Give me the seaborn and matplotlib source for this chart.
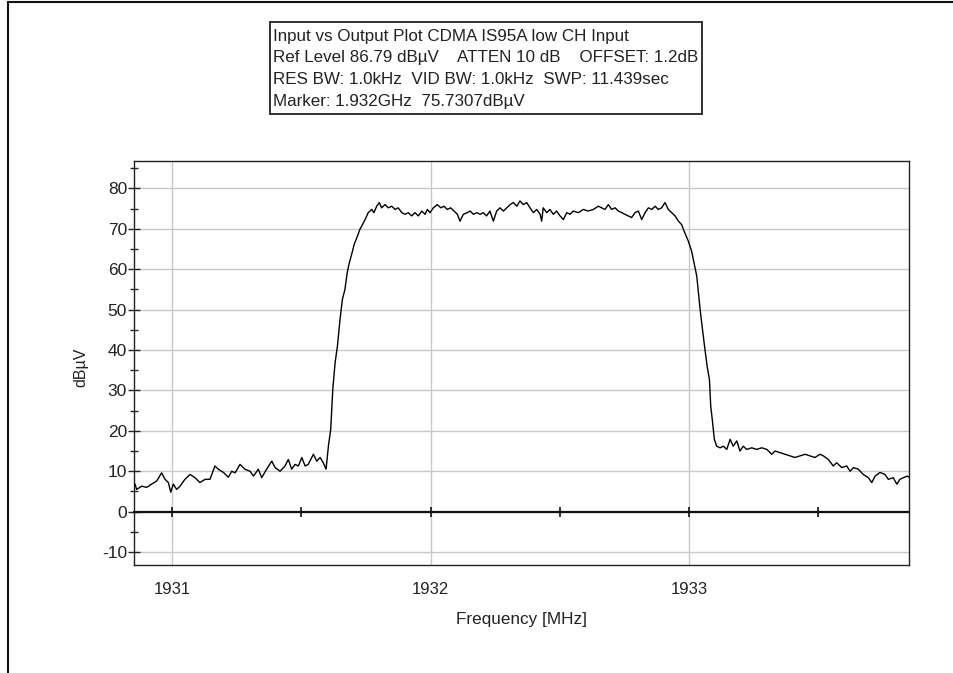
import numpy as np
import pandas as pd
import matplotlib
matplotlib.use("Agg")
import matplotlib.pyplot as plt
from matplotlib.lines import Line2D
from matplotlib.patches import Rectangle
import seaborn as sns

# ---------------- data ----------------
freq_mhz = [
    1930.857, 1930.863, 1930.883, 1930.902, 1930.921, 1930.941, 1930.960, 1930.973,
    1930.986, 1930.995, 1931.005, 1931.018, 1931.031, 1931.050, 1931.070, 1931.089,
    1931.108, 1931.128, 1931.147, 1931.166, 1931.179, 1931.199, 1931.218, 1931.231,
    1931.244, 1931.263, 1931.282, 1931.302, 1931.315, 1931.334, 1931.347, 1931.366,
    1931.386, 1931.399, 1931.418, 1931.437, 1931.450, 1931.463, 1931.476, 1931.489,
    1931.502, 1931.515, 1931.527, 1931.547, 1931.560, 1931.573, 1931.585, 1931.596,
    1931.605, 1931.614, 1931.622, 1931.631, 1931.640, 1931.650, 1931.659, 1931.669,
    1931.678, 1931.686, 1931.695, 1931.705, 1931.715, 1931.727, 1931.734, 1931.747,
    1931.759, 1931.773, 1931.781, 1931.792, 1931.802, 1931.811, 1931.824, 1931.837,
    1931.850, 1931.863, 1931.875, 1931.889, 1931.901, 1931.914, 1931.927, 1931.940,
    1931.953, 1931.966, 1931.979, 1931.988, 1931.998, 1932.011, 1932.026, 1932.040,
    1932.052, 1932.065, 1932.078, 1932.091, 1932.104, 1932.114, 1932.127, 1932.142,
    1932.153, 1932.166, 1932.179, 1932.192, 1932.204, 1932.217, 1932.230, 1932.243,
    1932.256, 1932.269, 1932.282, 1932.295, 1932.308, 1932.320, 1932.334, 1932.346,
    1932.359, 1932.372, 1932.385, 1932.398, 1932.411, 1932.424, 1932.430, 1932.436,
    1932.450, 1932.462, 1932.475, 1932.488, 1932.501, 1932.514, 1932.527, 1932.540,
    1932.552, 1932.572, 1932.591, 1932.610, 1932.630, 1932.649, 1932.662, 1932.675,
    1932.688, 1932.701, 1932.714, 1932.727, 1932.740, 1932.752, 1932.765, 1932.778,
    1932.791, 1932.804, 1932.817, 1932.830, 1932.843, 1932.856, 1932.869, 1932.881,
    1932.894, 1932.907, 1932.920, 1932.933, 1932.946, 1932.959, 1932.972, 1932.978,
    1932.997, 1933.010, 1933.030, 1933.043, 1933.058, 1933.070, 1933.079, 1933.084,
    1933.090, 1933.098, 1933.107, 1933.120, 1933.133, 1933.146, 1933.159, 1933.171,
    1933.185, 1933.197, 1933.210, 1933.223, 1933.243, 1933.262, 1933.281, 1933.301,
    1933.320, 1933.333, 1933.352, 1933.371, 1933.391, 1933.410, 1933.429, 1933.449,
    1933.468, 1933.487, 1933.507, 1933.520, 1933.539, 1933.558, 1933.571, 1933.591,
    1933.610, 1933.623, 1933.636, 1933.655, 1933.674, 1933.694, 1933.707, 1933.720,
    1933.739, 1933.758, 1933.771, 1933.790, 1933.804, 1933.816, 1933.829, 1933.845,
    1933.851,
]
level_dbuv = [
    6.8, 5.5, 6.3, 6.0, 6.8, 7.6, 9.6, 8.0,
    7.2, 4.8, 6.8, 5.5, 6.3, 8.0, 9.2, 8.4,
    7.2, 8.0, 8.0, 11.3, 10.5, 9.7, 8.5, 10.0,
    9.6, 11.7, 10.5, 10.0, 8.8, 10.5, 8.4, 10.5,
    12.5, 10.9, 10.0, 11.3, 12.9, 10.5, 11.7, 11.3,
    13.4, 11.3, 11.7, 14.2, 12.5, 13.4, 12.1, 10.5,
    16.2, 20.4, 30.3, 36.9, 41.0, 47.6, 52.5, 55.0,
    59.2, 61.6, 63.7, 66.2, 67.8, 69.9, 70.7, 72.3,
    74.0, 74.8, 74.0, 75.6, 76.5, 75.2, 76.0, 75.2,
    75.6, 74.8, 75.2, 74.0, 73.6, 74.0, 73.2, 74.0,
    73.2, 74.4, 73.6, 74.8, 74.0, 75.2, 76.0, 75.2,
    75.6, 74.8, 75.2, 74.4, 73.6, 71.9, 73.6, 74.0,
    74.4, 73.6, 74.0, 73.6, 74.0, 73.2, 74.4, 71.9,
    74.4, 75.2, 74.4, 75.2, 76.0, 76.5, 75.6, 76.9,
    76.0, 76.5, 75.2, 74.0, 74.8, 73.6, 71.9, 75.2,
    74.0, 74.8, 73.6, 74.4, 73.2, 72.3, 74.0, 73.6,
    74.4, 74.0, 74.8, 74.4, 74.8, 75.6, 75.2, 74.8,
    76.0, 74.8, 75.2, 74.4, 74.0, 73.6, 73.2, 72.8,
    74.0, 74.4, 72.3, 74.0, 75.2, 74.8, 75.6, 74.8,
    75.2, 76.5, 74.8, 74.0, 73.2, 71.9, 71.0, 69.9,
    67.0, 64.5, 58.3, 50.0, 42.0, 36.0, 32.7, 26.1,
    22.8, 17.9, 16.2, 15.8, 16.2, 15.4, 17.9, 16.2,
    17.5, 15.0, 16.2, 15.4, 15.8, 15.4, 15.8, 15.4,
    14.2, 15.0, 14.6, 14.2, 13.8, 13.4, 13.8, 14.2,
    13.8, 13.4, 14.2, 13.8, 12.9, 11.3, 12.1, 10.9,
    11.3, 10.0, 10.9, 10.5, 9.2, 8.4, 7.2, 8.8,
    9.7, 9.2, 8.0, 8.4, 6.8, 8.0, 8.4, 8.8,
    8.5,
]

x_major_ticks = [1931, 1932, 1933]
x_minor_ticks = [1931.5, 1932.5, 1933.5]
y_major_ticks = [-10, 0, 10, 20, 30, 40, 50, 60, 70, 80]
y_minor_ticks = [-5, 5, 15, 25, 35, 45, 55, 65, 75, 85]
x_range = (1930.853, 1933.851)
y_range = (-13.21, 86.79)

info_lines = [
    "Input vs Output Plot CDMA IS95A low CH Input",
    "Ref Level 86.79 dB\u00b5V    ATTEN 10 dB    OFFSET: 1.2dB",
    "RES BW: 1.0kHz  VID BW: 1.0kHz  SWP: 11.439sec",
    "Marker: 1.932GHz  75.7307dB\u00b5V",
]

df = pd.DataFrame({"Frequency [MHz]": freq_mhz, "dB\u00b5V": level_dbuv})

# ---------------- figure ----------------
sns.set_theme(style="white")
plt.rcParams["font.family"] = ["Liberation Sans", "DejaVu Sans"]
plt.rcParams["axes.unicode_minus"] = False

W, H = 954, 673
fig = plt.figure(figsize=(W / 100, H / 100), dpi=100)
fig.patch.set_facecolor("white")

def fx(px):
    return px / W

def fy(py):
    return 1 - py / H

ax = fig.add_axes([fx(134), fy(565), fx(909) - fx(134), fy(161) - fy(565)])

sns.lineplot(data=df, x="Frequency [MHz]", y="dB\u00b5V", color="black",
             linewidth=1.0, estimator=None, sort=False, ax=ax, zorder=4)

ax.set_xlim(*x_range)
ax.set_ylim(*y_range)

ax.set_xticks(x_major_ticks)
ax.set_xticklabels([str(t) for t in x_major_ticks])
ax.set_yticks(y_major_ticks)
ax.set_yticks(y_minor_ticks, minor=True)

ax.grid(True, which="major", color="#c8c8c8", linewidth=1.0, zorder=0.5)
ax.set_axisbelow(True)

for sp in ax.spines.values():
    sp.set_visible(True)
    sp.set_color("#222222")
    sp.set_linewidth(1.0)

ax.tick_params(axis="x", which="both", length=0, pad=12, labelsize=12,
               colors="#222222")
ax.tick_params(axis="y", which="major", direction="inout", length=8, width=1.0,
               pad=1, labelsize=12.5, colors="#222222", left=True)
ax.tick_params(axis="y", which="minor", direction="inout", length=6, width=1.0,
               left=True)

# zero line axis carrying the frequency ticks
zero_pos = (0 - y_range[0]) / (y_range[1] - y_range[0])
sec = ax.secondary_xaxis(zero_pos)
sec.set_zorder(3)
sec.set_xticks(x_major_ticks)
sec.set_xticks(x_minor_ticks, minor=True)
sec.set_xticklabels([])
sec.tick_params(axis="x", which="both", direction="inout", length=7, width=1.2,
                colors="#111111", labelbottom=False, labeltop=False)
for sp in sec.spines.values():
    sp.set_linewidth(1.6)
    sp.set_color("#111111")

ax.set_xlabel("Frequency [MHz]", fontsize=12.3, color="#222222", labelpad=11)
ax.set_ylabel("dB\u00b5V", fontsize=11.5, color="#222222")
ax.yaxis.set_label_coords((88 - 134) / 775, 0.49)

# header box
fig.add_artist(Rectangle((fx(270), fy(114)), fx(702) - fx(270), fy(22) - fy(114),
                         transform=fig.transFigure, facecolor="white",
                         edgecolor="#222222", linewidth=1.3))
line_y = [36.7, 57.7, 79.5, 101.5]
for txt, yy in zip(info_lines, line_y):
    fig.text(fx(273), fy(yy), txt, fontsize=12.25, color="#222222",
             ha="left", va="center")

# window frame (top and left edges)
fig.add_artist(Line2D([fx(8), 1], [fy(2), fy(2)], transform=fig.transFigure,
                      color="#111111", linewidth=1.5))
fig.add_artist(Line2D([fx(8), fx(8)], [0, fy(2)], transform=fig.transFigure,
                      color="#111111", linewidth=1.5))

fig.savefig("out.png", dpi=100)
